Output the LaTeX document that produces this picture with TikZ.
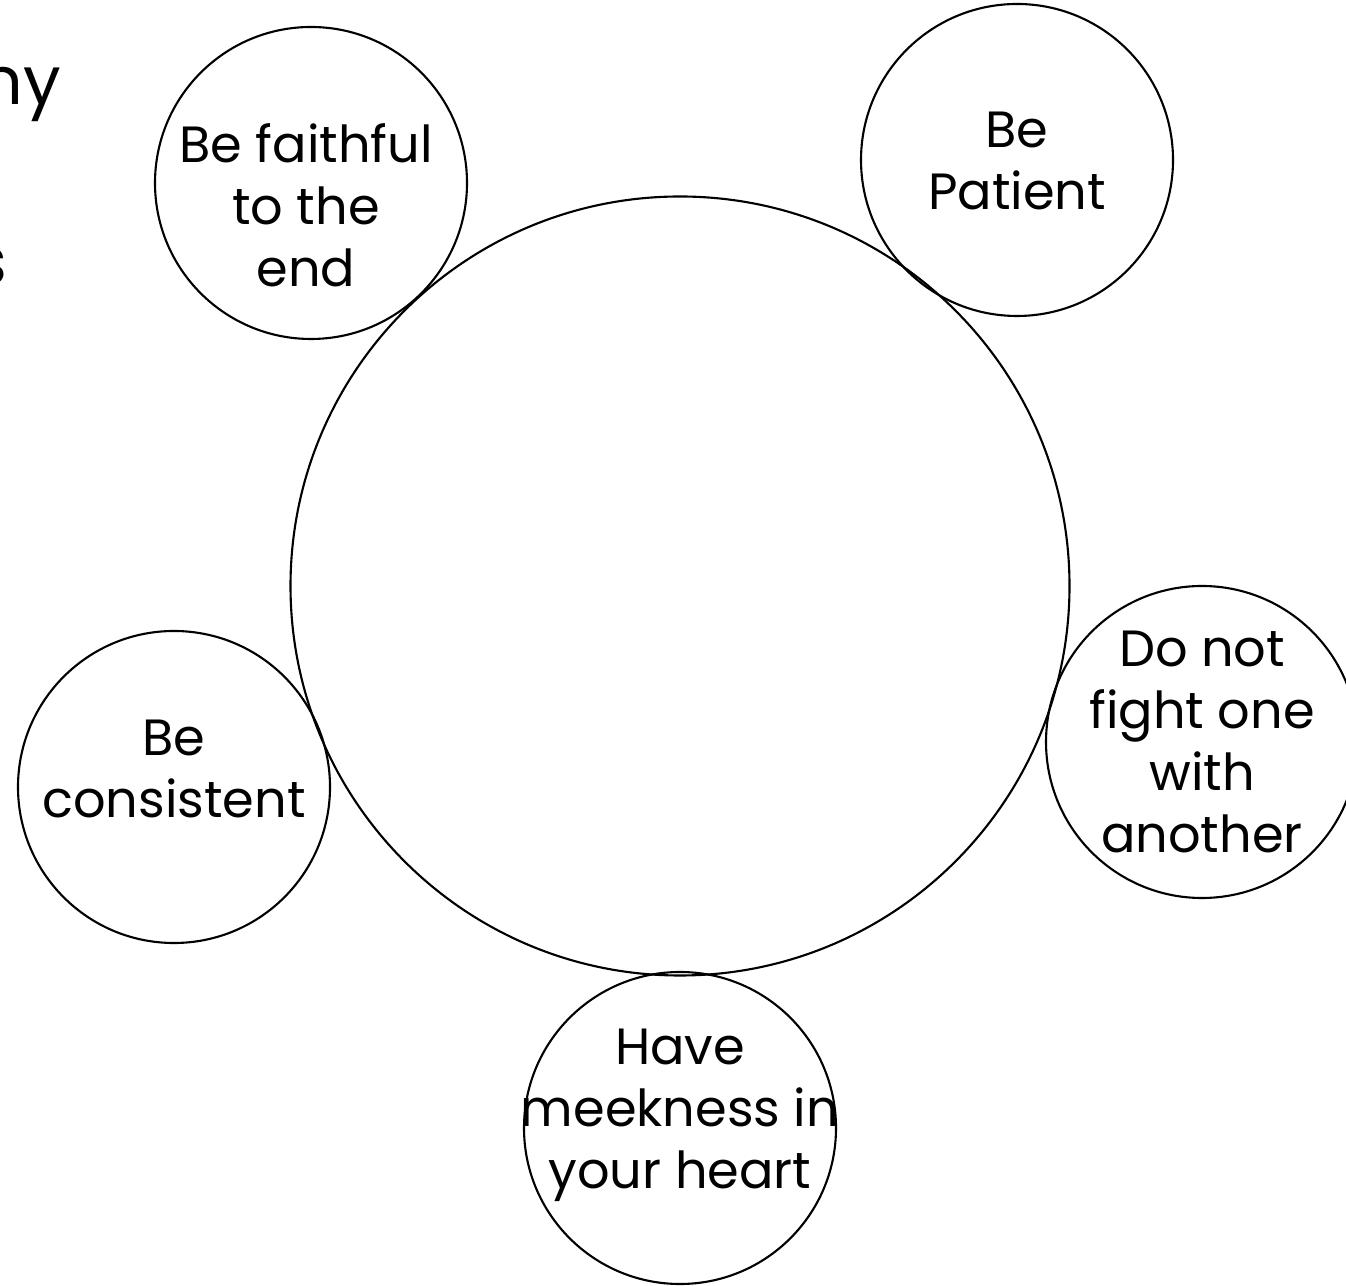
\documentclass[tikz,border=0pt]{standalone}
\usepackage{fontspec}
\setmainfont{Poppins}
\usepackage{tikz}

\begin{document}
\begin{tikzpicture}[
    bubble/.style={draw,semithick,circle,inner sep=0pt,minimum size=3.12cm},
    bubbletext/.style={align=center,font=\fontsize{14.5}{17.6}\selectfont,inner sep=0pt},
    edgetext/.style={anchor=base east,font=\fontsize{19}{23}\selectfont,inner sep=0pt}]
  \useasboundingbox (0,0) rectangle (13.46,12.85);
  % centre circle
  \node[draw,semithick,circle,inner sep=0pt,minimum size=7.79cm] (core) at (6.80,6.99) {};
  % the five small circles round it
  \node[bubble] (faith) at (3.11,11.02) {};
  \node[bubble] (patient) at (10.17,11.25) {};
  \node[bubble] (fight) at (12.02,5.43) {};
  \node[bubble] (steady) at (1.74,4.98) {};
  \node[bubble] (meek) at (6.80,1.57) {};
  \node[bubbletext] (faithtext) at (3.06,10.80) {Be faithful\\to the\\end};
  \node[bubbletext] (patienttext) at (10.17,11.24) {Be\\Patient};
  \node[bubbletext] (fighttext) at (12.02,5.43) {Do not\\fight one\\with\\another};
  \node[bubbletext] (steadytext) at (1.74,5.16) {Be\\consistent};
  \node[bubbletext] (meektext) at (6.80,1.70) {Have\\meekness in\\your heart};
  % cut-off words at the left edge
  \node[edgetext] (edgeA) at (0.06,12.70) {d};
  \node[edgetext] (edgeB) at (0.62,11.80) {ny};
  \node[edgetext] (edgeC) at (0.08,10.00) {s};
\end{tikzpicture}
\end{document}
